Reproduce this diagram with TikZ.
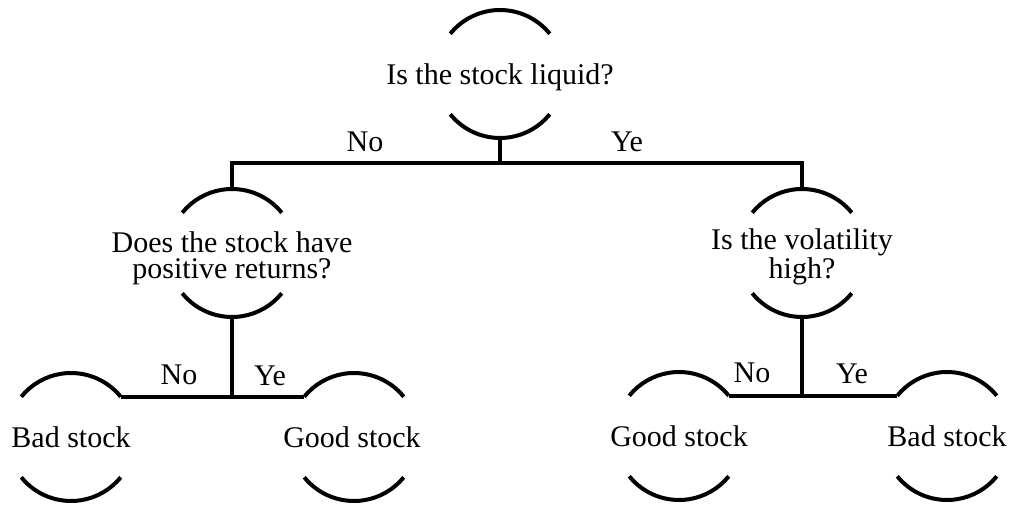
\documentclass[tikz,border=0pt]{standalone}
\usepackage{fontspec}
\setmainfont{Liberation Serif}
\begin{document}
\begin{tikzpicture}[x=1pt,y=1pt,
  ring/.style={circle,draw=none,inner sep=0pt,outer sep=0pt,minimum size=128pt},
  txt/.style={inner sep=0pt,outer sep=0pt,align=center,anchor=base,font=\fontsize{30}{26}\selectfont},
  lbl/.style={inner sep=0pt,outer sep=0pt,anchor=base,font=\fontsize{30}{26}\selectfont},
  arcline/.style={line width=4pt,line cap=butt},
  conn/.style={line width=4pt,line join=miter}]
\useasboundingbox (0,0) rectangle (1011,504);
% rings
\node[ring] (root) at (500,430) {};
\node[ring] (L) at (232,251) {};
\node[ring] (R) at (802,251) {};
\node[ring] (LL) at (71,67) {};
\node[ring] (LR) at (354,67) {};
\node[ring] (RL) at (679,68) {};
\node[ring] (RR) at (947,68) {};
% arcs
\foreach \n in {root,L,R,LL,LR,RL,RR}{
  \draw[arcline] (\n.39) arc[start angle=39,end angle=141,radius=64pt];
  \draw[arcline] (\n.219) arc[start angle=219,end angle=321,radius=64pt];
}
% texts
\node[txt] (roott) at (500,419) {Is the stock liquid?};
\node[txt] (Lt) at (232,226) {Does the stock have\\positive returns?};
\node[txt] (Rt) at (802,226) {Is the volatility\\high?};
\node[txt] (LLt) at (71,57) {Bad stock};
\node[txt] (LRt) at (352,57) {Good stock};
\node[txt] (RLt) at (679,58) {Good stock};
\node[txt] (RRt) at (947,58) {Bad stock};
% connectors
\coordinate (bar) at (500,341);
\draw[conn] (L.north) |- (bar) -| (R.north);
\draw[conn] (root.south) -- (bar);
\draw[conn] (LL.39) -- (LR.141);
\draw[conn] (L.south) -- (L.south |- LL.39);
\draw[conn] (RL.39) -- (RR.141);
\draw[conn] (R.south) -- (R.south |- RL.39);
% labels
\node[lbl] (no1) at (365,352) {No};
\node[lbl] (ye1) at (627,352) {Ye};
\node[lbl] (no2) at (179,120) {No};
\node[lbl] (ye2) at (270,119) {Ye};
\node[lbl] (no3) at (752,122) {No};
\node[lbl] (ye3) at (852,121) {Ye};
\end{tikzpicture}
\end{document}
